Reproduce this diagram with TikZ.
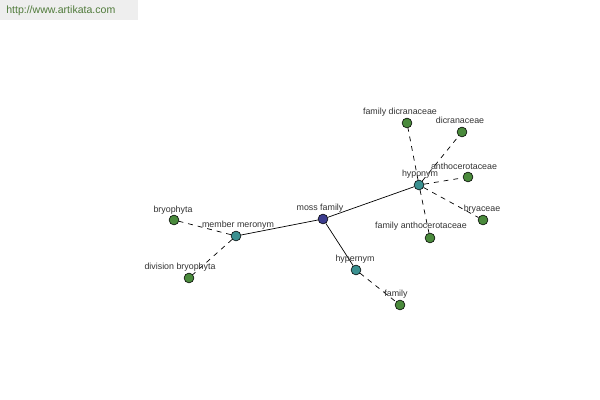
\documentclass[tikz,border=0pt]{standalone}
\usepackage{fontspec}
\setmainfont{Liberation Sans}
\definecolor{hubblue}{HTML}{3C3C8E}
\definecolor{relteal}{HTML}{3A9090}
\definecolor{leafgreen}{HTML}{4A8A3C}
\definecolor{labelgray}{HTML}{333333}
\definecolor{markbox}{HTML}{EEEEEE}
\definecolor{marktext}{HTML}{4F7A3A}

\tikzset{
    dot/.style={circle, draw=black, line width=0.4pt, inner sep=0pt, minimum size=7pt},
    hub/.style={dot, fill=hubblue},
    rel/.style={dot, fill=relteal},
    leaf/.style={dot, fill=leafgreen},
    lbl/.style={text=labelgray, font=\fontsize{6.3}{7}\selectfont, inner sep=0pt},
    link/.style={line width=0.5pt},
    dlink/.style={line width=0.5pt, dash pattern=on 3.5pt off 3.5pt}
}

\begin{document}
\begin{tikzpicture}[x=0.025cm, y=-0.025cm]

    \useasboundingbox (0,0) rectangle (600,400);
    \fill[white] (0,0) rectangle (600,400);

    \fill[markbox] (0,0) rectangle (138,20);
    \node[text=marktext, font=\fontsize{7.5}{9}\selectfont, anchor=west, inner sep=0pt] (site) at (6,11) {http://www.artikata.com};

    \node[hub] (moss) at (323,219) {};
    \node[rel] (hypo) at (419,185) {};
    \node[rel] (mero) at (236,236) {};
    \node[rel] (hyper) at (356,270) {};

    \node[leaf] (famdic) at (407,123) {};
    \node[leaf] (dic) at (462,132) {};
    \node[leaf] (antho) at (468,177) {};
    \node[leaf] (brya) at (483,220) {};
    \node[leaf] (famantho) at (430,238) {};
    \node[leaf] (bryo) at (174,220) {};
    \node[leaf] (divbryo) at (189,278) {};
    \node[leaf] (fam) at (400,305) {};

    \draw[link] (moss) -- (hypo);
    \draw[link] (moss) -- (mero);
    \draw[link] (moss) -- (hyper);

    \draw[dlink] (hypo) -- (famdic);
    \draw[dlink] (hypo) -- (dic);
    \draw[dlink] (hypo) -- (antho);
    \draw[dlink] (hypo) -- (brya);
    \draw[dlink] (hypo) -- (famantho);
    \draw[dlink] (mero) -- (bryo);
    \draw[dlink] (mero) -- (divbryo);
    \draw[dlink] (hyper) -- (fam);

    \node[lbl] (mosslbl) at (320,208) {moss family};
    \node[lbl] (hypolbl) at (420,174) {hyponym};
    \node[lbl] (merolbl) at (238,225) {member meronym};
    \node[lbl] (hyperlbl) at (355,259) {hypernym};
    \node[lbl] (famdiclbl) at (400,112) {family dicranaceae};
    \node[lbl] (diclbl) at (460,120) {dicranaceae};
    \node[lbl] (antholbl) at (464,166) {anthocerotaceae};
    \node[lbl] (bryalbl) at (482,209) {bryaceae};
    \node[lbl] (famantholbl) at (421,226) {family anthocerotaceae};
    \node[lbl] (bryolbl) at (173,210) {bryophyta};
    \node[lbl] (divbryolbl) at (180,267) {division bryophyta};
    \node[lbl] (famlbl) at (396,294) {family};

\end{tikzpicture}
\end{document}
